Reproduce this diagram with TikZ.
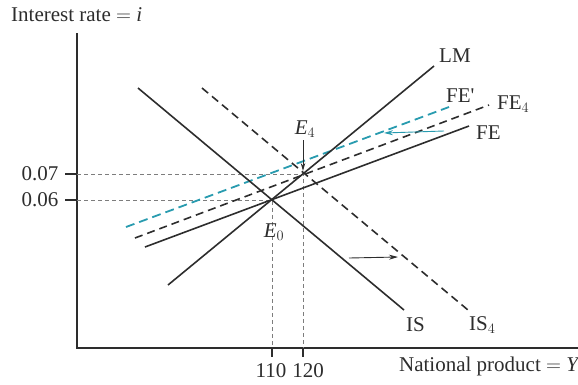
\documentclass[tikz,border=0pt]{standalone}
\usepackage{fontspec}
\setmainfont{Liberation Serif}
\usetikzlibrary{arrows.meta}
\definecolor{ink}{RGB}{45,45,45}
\definecolor{teal2}{RGB}{40,155,175}
\definecolor{guide}{RGB}{125,125,125}
\begin{document}
\begin{tikzpicture}[x=1pt,y=-1pt,
  curve/.style={draw=ink,line width=1.6pt},
  dcurve/.style={draw=ink,line width=1.6pt,dash pattern=on 8pt off 5pt},
  tcurve/.style={draw=teal2,line width=1.8pt,dash pattern=on 9pt off 5pt},
  guideline/.style={draw=guide,line width=0.5pt,dash pattern=on 4pt off 3pt},
  axisline/.style={draw=ink,line width=1.1pt},
  lab/.style={font=\fontsize{21}{24}\selectfont,text=ink,inner sep=0pt},
  shiftarrow/.style={line width=0.9pt,-{Stealth[length=9pt,width=5pt]}}]
\useasboundingbox (0,0) rectangle (578,384);
% axes
\coordinate (O) at (77,348);
\coordinate (Ytop) at (77,33);
\coordinate (Xend) at (578,348);
\draw[axisline] (Ytop) -- (O) -- (Xend);
\node[lab,anchor=west] (ylab) at (11,15) {Interest rate $=$ \textit{i}};
\node[lab,anchor=east] (xlab) at (580,366) {National product $=$ \textit{Y}};
% equilibrium points
\coordinate (E0) at (272,200);
\coordinate (E4) at (303,174);
% guide lines
\coordinate (A7) at (77,174);
\coordinate (A6) at (77,200);
\coordinate (B110) at (272,348);
\coordinate (B120) at (303,348);
\draw[guideline] (A7) -- (E4) -- (B120);
\draw[guideline] (A6) -- (E0) -- (B110);
% ticks
\draw[axisline] (65,174) -- (A7);
\draw[axisline] (65,200) -- (A6);
\draw[axisline] (B110) -- (272,357);
\draw[axisline] (B120) -- (303,357);
\node[lab] (t07) at (40,174) {0.07};
\node[lab] (t06) at (40,200) {0.06};
\node[lab] (t110) at (271,371) {110};
\node[lab] (t120) at (308,371) {120};
% curves
\coordinate (IS1) at (138,88);   \coordinate (IS2) at (404,310);
\coordinate (ISf1) at (202,88);  \coordinate (ISf2) at (468,310);
\coordinate (LM1) at (168,285);  \coordinate (LM2) at (434,66);
\coordinate (FE1) at (145,247);  \coordinate (FE2) at (469,126);
\coordinate (FEf1) at (135,238); \coordinate (FEf2) at (489,105);
\coordinate (FEp1) at (126,227); \coordinate (FEp2) at (449,107);
\draw[tcurve] (FEp1) -- (FEp2);
\draw[dcurve] (FEf1) -- (FEf2);
\draw[dcurve] (ISf1) -- (ISf2);
\draw[curve] (IS1) -- (IS2);
\draw[curve] (LM1) -- (LM2);
\draw[curve] (FE1) -- (FE2);
% labels
\node[lab,anchor=west] (LMlab) at (439,56) {LM};
\node[lab,anchor=west] (FEplab) at (446,96) {FE\textquotesingle};
\node[lab,anchor=west] (FE4lab) at (497,104) {FE$_4$};
\node[lab,anchor=west] (FElab) at (476,133) {FE};
\node[lab,anchor=west] (ISlab) at (406,325) {IS};
\node[lab,anchor=west] (IS4lab) at (469,325) {IS$_4$};
\node[lab] (E0lab) at (274,232) {\textit{E}$_0$};
\node[lab] (E4lab) at (305,129) {\textit{E}$_4$};
% arrows
\coordinate (E4a) at (303,140);
\coordinate (E4b) at (303,171);
\draw[shiftarrow,draw=ink,-{Stealth[length=8pt,width=4.5pt]}] (E4a) -- (E4b);
\coordinate (ISa1) at (349,258);
\coordinate (ISa2) at (398,257);
\draw[shiftarrow,draw=ink] (ISa1) -- (ISa2);
\coordinate (FEa1) at (444,131);
\coordinate (FEa2) at (384,133);
\draw[shiftarrow,draw=teal2] (FEa1) -- (FEa2);
\end{tikzpicture}
\end{document}
